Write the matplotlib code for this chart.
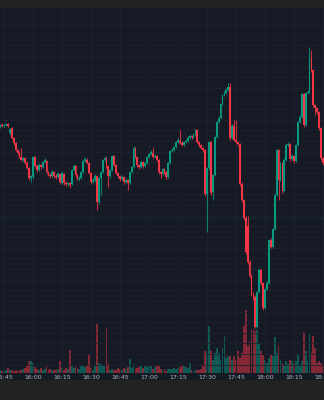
import numpy as np
import matplotlib
matplotlib.use("Agg")
import matplotlib.pyplot as plt

# 1-minute candles, starting 15:43 (minute -17 relative to 16:00)
start_minute = -17

opens = [273, 275, 274, 275, 276, 267, 272, 262, 257, 250,
         247, 243, 240, 242, 237, 232, 222, 223, 243, 234,
         230, 235, 233, 238, 239, 228, 225, 224, 228, 224,
         223, 226, 217, 226, 217, 216, 217, 216, 230, 234,
         225, 221, 222, 228, 239, 240, 237, 227, 218, 220,
         224, 198, 222, 228, 240, 242, 234, 224, 230, 244,
         235, 227, 224, 221, 223, 218, 220, 217, 228, 233,
         252, 243, 235, 233, 238, 234, 237, 243, 246, 247,
         243, 244, 240, 228, 226, 231, 228, 223, 237, 249,
         250, 253, 258, 259, 257, 255, 258, 259, 262, 264,
         263, 265, 270, 258, 255, 252, 250, 206, 232, 258,
         208, 225, 263, 278, 282, 296, 305, 307, 310, 313,
         262, 274, 260, 258, 256, 216, 200, 182, 174, 138,
         124, 106, 103, 73, 108, 130, 117, 92, 111, 117,
         160, 153, 171, 205, 250, 220, 237, 209, 240, 255,
         256, 241, 244, 239, 255, 278, 283, 306, 275, 307,
         308, 342, 330, 295, 292, 288, 272, 242]
closes = [275, 274, 275, 276, 274, 271, 262, 257, 250, 247,
          243, 240, 242, 237, 232, 222, 224, 243, 234, 230,
          235, 233, 238, 240, 228, 225, 224, 228, 224, 223,
          226, 218, 227, 217, 216, 217, 215, 230, 234, 225,
          221, 222, 228, 239, 241, 237, 227, 218, 220, 224,
          198, 222, 228, 240, 242, 234, 224, 230, 244, 235,
          227, 224, 221, 223, 218, 220, 217, 228, 233, 252,
          243, 235, 233, 238, 234, 237, 243, 246, 248, 243,
          244, 240, 228, 226, 231, 228, 223, 237, 249, 250,
          253, 258, 260, 257, 255, 258, 259, 262, 264, 263,
          265, 270, 258, 255, 252, 250, 206, 232, 258, 207,
          225, 263, 278, 282, 296, 305, 307, 310, 313, 262,
          274, 260, 258, 256, 216, 200, 182, 148, 138, 124,
          106, 102, 73, 108, 130, 117, 92, 111, 117, 160,
          153, 171, 205, 250, 220, 237, 209, 240, 255, 256,
          241, 244, 239, 255, 278, 283, 306, 275, 307, 308,
          342, 330, 295, 292, 288, 272, 242, 237]
highs = [276, 277, 276, 277, 277, 272, 273, 263, 258, 251,
         249, 252, 243, 243, 239, 233, 225, 244, 244, 236,
         237, 236, 239, 242, 240, 229, 227, 230, 229, 226,
         228, 227, 229, 227, 219, 218, 218, 231, 236, 235,
         226, 224, 229, 240, 243, 242, 238, 228, 222, 226,
         225, 223, 229, 241, 244, 243, 235, 231, 245, 245,
         236, 228, 225, 225, 224, 222, 221, 229, 234, 254,
         253, 244, 236, 239, 239, 238, 244, 247, 250, 253,
         246, 245, 241, 229, 232, 232, 229, 238, 250, 252,
         254, 259, 262, 270, 259, 259, 261, 264, 266, 265,
         267, 271, 271, 259, 256, 253, 251, 233, 259, 259,
         226, 264, 279, 284, 297, 306, 309, 312, 317, 317,
         276, 280, 280, 259, 257, 218, 201, 184, 184, 140,
         126, 108, 105, 109, 132, 131, 118, 112, 119, 161,
         162, 172, 206, 251, 251, 238, 238, 242, 256, 258,
         257, 246, 245, 256, 279, 285, 307, 307, 308, 310,
         353, 350, 331, 296, 293, 289, 273, 243]
lows = [272, 273, 273, 274, 273, 265, 261, 255, 249, 245,
        242, 239, 238, 236, 231, 220, 218, 221, 233, 228,
        229, 231, 232, 237, 226, 224, 222, 223, 222, 221,
        222, 216, 216, 215, 214, 214, 212, 215, 229, 223,
        220, 219, 221, 227, 238, 236, 226, 216, 217, 218,
        190, 196, 205, 227, 239, 232, 213, 222, 229, 234,
        226, 222, 219, 220, 216, 217, 210, 216, 227, 232,
        242, 233, 231, 232, 232, 233, 236, 242, 245, 242,
        242, 239, 226, 222, 225, 227, 221, 222, 236, 248,
        249, 252, 257, 256, 254, 254, 257, 258, 261, 261,
        262, 264, 257, 253, 251, 248, 204, 168, 230, 205,
        200, 224, 262, 277, 281, 295, 304, 306, 309, 260,
        261, 259, 256, 254, 214, 198, 180, 146, 136, 122,
        104, 100, 72, 72, 107, 115, 90, 91, 110, 116,
        152, 152, 170, 204, 200, 219, 207, 208, 239, 253,
        239, 240, 237, 238, 254, 277, 282, 273, 274, 306,
        307, 328, 293, 285, 286, 270, 240, 235]
volumes = [3, 2, 2, 3, 5, 3, 3, 2, 3, 2,
           3, 3, 4, 5, 8, 12, 12, 10, 6, 4,
           3, 5, 3, 4, 7, 3, 4, 3, 3, 3,
           4, 12, 5, 3, 5, 4, 23, 7, 5, 6,
           5, 4, 7, 7, 6, 8, 19, 5, 3, 7,
           49, 10, 9, 8, 7, 45, 9, 3, 4, 3,
           3, 5, 4, 3, 5, 4, 6, 14, 5, 9,
           4, 5, 6, 7, 5, 7, 6, 8, 7, 4,
           6, 8, 7, 4, 3, 4, 2, 4, 4, 4,
           5, 4, 5, 6, 8, 8, 6, 5, 10, 3,
           2, 4, 3, 3, 4, 8, 22, 20, 47, 22,
           13, 20, 25, 20, 13, 25, 37, 15, 17, 17,
           13, 17, 13, 22, 15, 20, 47, 63, 27, 32,
           43, 44, 42, 43, 30, 22, 18, 13, 10, 15,
           18, 17, 36, 20, 28, 13, 10, 8, 12, 9,
           13, 12, 9, 12, 18, 8, 12, 41, 22, 12,
           39, 20, 37, 25, 10, 12, 10, 8]
volumes = [v * 100 for v in volumes]

tick_minutes = [-15, 0, 15, 30, 45, 60, 75, 90, 105, 120, 135, 150]
tick_labels = ["15:45", "16:00", "16:15", "16:30", "16:45", "17:00",
               "17:15", "17:30", "17:45", "18:00", "18:15", "18:30"]

up_color = "#089981"
down_color = "#f23645"
bg_color = "#161a25"
grid_color = "#1e2230"

o = np.array(opens)
c = np.array(closes)
h = np.array(highs)
l = np.array(lows)
x = start_minute + np.arange(len(o))
colors = np.where(c >= o, up_color, down_color)

fig = plt.figure(figsize=(3.24, 4.0), dpi=100, facecolor="#222222")
fig.patches.append(plt.Rectangle((0, 20 / 400), 1, 372 / 400, transform=fig.transFigure,
                                 facecolor=bg_color, edgecolor="none", zorder=-5))

ax = fig.add_axes([0, 27 / 400, 1, 365 / 400])
ax.set_facecolor(bg_color)
ax2 = ax.twinx()

# volume on its own scale
ax2.bar(x, volumes, width=0.95, color=colors, alpha=0.5, linewidth=0)
ax2.set_ylim(0, 36500)
ax2.set_yticks([])

# candles
ax.vlines(x, l, h, colors=colors, linewidth=0.8, alpha=0.8, zorder=3)
body = np.where(np.abs(c - o) < 0.8, 0.8, c - o)
ax.bar(x, body, bottom=o, width=0.95, color=colors, linewidth=0, zorder=4)

ax.axhline(182, color=up_color, alpha=0.15, linewidth=0.6, zorder=1)

ax.set_xlim(-17.07, 150.5)
ax.set_ylim(27, 392)
ax.set_zorder(ax2.get_zorder() + 1)
ax.patch.set_visible(False)
ax2.patch.set_visible(False)

ax.set_xticks(tick_minutes)
ax.set_xticklabels(tick_labels)
ax.set_yticks(np.arange(376, 27, -10.65))
ax.grid(True, color=grid_color, linewidth=0.6)
ax.set_axisbelow(True)
ax.tick_params(axis="x", length=0, pad=1.5, labelsize=4.5, colors="#b2b5be")
ax.tick_params(axis="y", length=0, labelleft=False, labelright=False)
for a in (ax, ax2):
    for s in a.spines.values():
        s.set_visible(False)

fig.savefig("out.png", dpi=100, facecolor=fig.get_facecolor())
